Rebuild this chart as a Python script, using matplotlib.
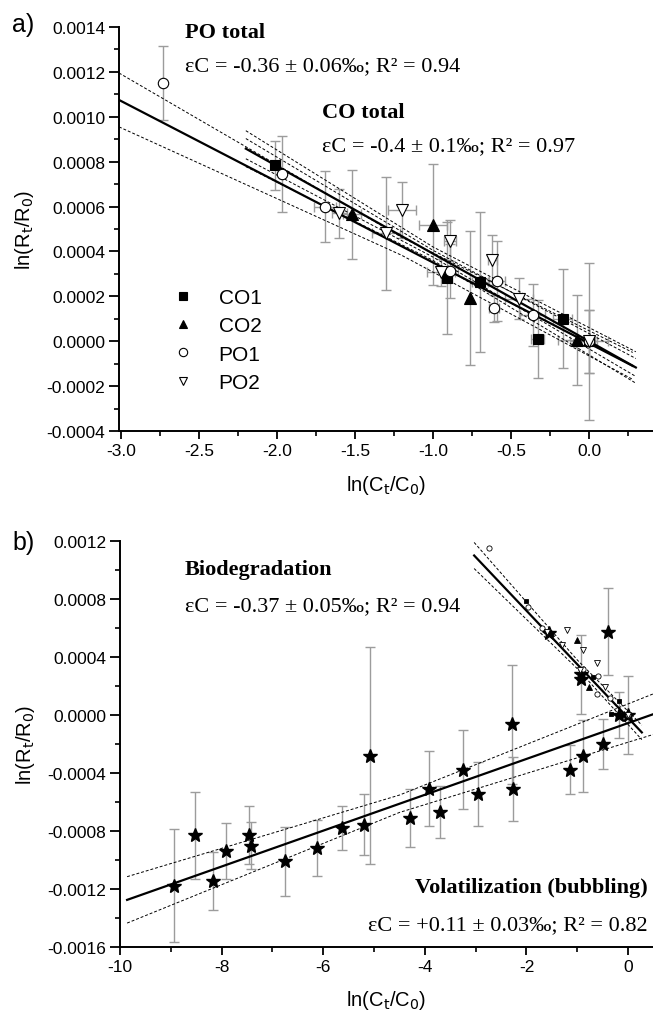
import numpy as np
import matplotlib.pyplot as plt
from matplotlib.ticker import MultipleLocator, FormatStrFormatter

plt.rcParams['font.family'] = ['Liberation Sans Narrow', 'Liberation Sans', 'DejaVu Sans']
plt.rcParams['mathtext.fontset'] = 'custom'
plt.rcParams['mathtext.rm'] = 'Liberation Sans Narrow'
plt.rcParams['mathtext.it'] = 'Liberation Sans Narrow:italic'

# ---- panel a: biodegradation data ----
co1_x = [-2.01, -0.91, -0.70, -0.33, -0.17, 0.0]
co1_y = [0.000784, 0.000280, 0.000264, 0.000009, 0.000100, 0.0]
co1_yerr = [0.00011, 0.00025, 0.00031, 0.000175, 0.00022, 0.00014]
co1_xerr = [0.03, 0.03, 0.05, 0.04, 0.06, 0.0]

co2_x = [-1.52, -1.00, -0.76, -0.08]
co2_y = [0.000565, 0.000520, 0.000193, 0.000005]
co2_yerr = [0.00020, 0.00027, 0.00030, 0.00020]
co2_xerr = [0.06, 0.09, 0.0, 0.12]

po1_x = [-2.73, -1.97, -1.69, -0.89, -0.59, -0.61, -0.36, 0.0]
po1_y = [0.00115, 0.000745, 0.000600, 0.000314, 0.000268, 0.000147, 0.000117, 0.0]
po1_yerr = [0.000166, 0.00017, 0.00016, 0.00012, 0.00018, 0.00006, 0.00014, 0.00035]
po1_xerr = [0.0, 0.0, 0.07, 0.05, 0.05, 0.03, 0.08, 0.05]

po2_x = [-1.60, -1.30, -1.20, -0.95, -0.89, -0.62, -0.45, 0.0]
po2_y = [0.000570, 0.000480, 0.000585, 0.000307, 0.000448, 0.000362, 0.000190, 0.0]
po2_yerr = [0.00011, 0.00025, 0.000126, 0.00006, 0.00009, 0.00011, 0.00009, 0.00014]
po2_xerr = [0.05, 0.09, 0.09, 0.09, 0.04, 0.03, 0.09, 0.12]

# fitted lines (x range, y at the ends) and band half widths
po_fit_x = [-3.013, 0.28]
po_fit_y = [0.001075, -0.000110]
po_band_x = [-3.013, -1.2, 0.28]
po_band_h = [0.00012, 0.00004, 0.00006]

co_fit_x = [-2.2, 0.30]
co_fit_y = [0.000858, -0.000117]
co_band_x = [-2.2, -1.0, 0.30]
co_band_outer = [0.00008, 0.00003, 0.00007]
co_band_inner = [0.000045, 0.000015, 0.00004]

# ---- panel b: volatilization data ----
vol_x = [-8.94, -8.53, -8.16, -7.91, -7.46, -7.42, -6.76, -6.13, -5.64, -5.20,
         -5.08, -4.30, -3.92, -3.70, -3.24, -2.95, -2.28, -2.26, -1.15, -0.88,
         -0.50, -0.17, 0.0, -0.92, -0.93, -0.40, -1.55]
vol_y = [-0.001176, -0.00083, -0.001148, -0.000938, -0.00083, -0.00090, -0.00101,
         -0.000917, -0.000779, -0.000756, -0.000281, -0.00071, -0.000507,
         -0.000668, -0.000376, -0.000546, -0.0000645, -0.000512, -0.000376,
         -0.000284, -0.00020, 0.0, 0.0, 0.00028, 0.00025, 0.000575, 0.000565]
vol_yerr = [0.00039, 0.00030, 0.00020, 0.00019, 0.00020, 0.00016, 0.00024, 0.00019,
            0.00015, 0.00021, 0.00075, 0.00020, 0.00026, 0.00018, 0.00027, 0.00022,
            0.00041, 0.00022, 0.00017, 0.00025, 0.00017, 0.00016, 0.00027,
            0.00027, 0.0, 0.00030, 0.0]

vol_fit_x = [-9.86, 0.49]
vol_fit_y = [-0.001275, 0.000005]
vol_band_x = [-9.86, -4.5, 0.49]
vol_band_h = [0.00016, 0.00006, 0.00014]

bio_fit_x = [-3.03, 0.27]
bio_fit_y = [0.00110, -0.00012]
bio_band_x = [-3.03, -1.0, 0.27]
bio_band_h = [0.00009, 0.00003, 0.00005]

ERR = '#9c9c9c'
serif = ['Liberation Serif', 'DejaVu Serif']
sans = ['Liberation Sans', 'DejaVu Sans']


def px(x, y):
    return x / 653.0, 1 - y / 1012.0


def style_axes(ax):
    ax.spines['right'].set_visible(False)
    ax.spines['top'].set_visible(False)
    ax.spines['left'].set_linewidth(1.4)
    ax.spines['bottom'].set_linewidth(1.4)
    ax.tick_params(which='major', direction='out', length=6, width=1.3, labelsize=12.5, pad=3)
    ax.tick_params(which='minor', direction='out', length=3.5, width=1.2)
    ax.tick_params(axis='y', which='major', length=7)
    ax.yaxis.set_major_formatter(FormatStrFormatter('%.4f'))


def band(ax, fx, fy, bx, bh):
    bx = np.array(bx)
    line = np.interp(bx, fx, fy)
    for s in (1, -1):
        ax.plot(bx, line + s * np.array(bh), color='black', lw=0.7, ls=(0, (3, 2)), zorder=2)


fig = plt.figure(figsize=(6.53, 10.12), dpi=100)

# ================= panel a =================
ax1 = fig.add_axes([119 / 653, 1 - 432 / 1012, 534 / 653, 404 / 1012])
style_axes(ax1)
ax1.set_xlim(-3.013, 0.41)
ax1.set_ylim(-0.0004, 0.0014)
ax1.xaxis.set_major_locator(MultipleLocator(0.5))
ax1.xaxis.set_minor_locator(MultipleLocator(0.25))
ax1.yaxis.set_major_locator(MultipleLocator(0.0002))
ax1.yaxis.set_minor_locator(MultipleLocator(0.0001))
ax1.xaxis.set_major_formatter(FormatStrFormatter('%.1f'))

series = [
    (co1_x, co1_y, co1_yerr, co1_xerr, 's', 'black', 7, 'CO1'),
    (co2_x, co2_y, co2_yerr, co2_xerr, '^', 'black', 8, 'CO2'),
    (po1_x, po1_y, po1_yerr, po1_xerr, 'o', 'white', 7.5, 'PO1'),
    (po2_x, po2_y, po2_yerr, po2_xerr, 'v', 'white', 8, 'PO2'),
]
handles = []
for x, y, ye, xe, m, fc, ms, lab in series:
    ax1.errorbar(x, y, yerr=ye, xerr=xe, fmt='none', ecolor=ERR, elinewidth=1,
                 capsize=3.5, capthick=1, zorder=1)
    h, = ax1.plot(x, y, m, ls='none', mfc=fc, mec='black', mew=0.8, ms=ms, zorder=4, label=lab)
    handles.append(h)

ax1.plot(po_fit_x, po_fit_y, color='black', lw=1.6, zorder=3)
band(ax1, po_fit_x, po_fit_y, po_band_x, po_band_h)
ax1.plot(co_fit_x, co_fit_y, color='black', lw=1.6, zorder=3)
band(ax1, co_fit_x, co_fit_y, co_band_x, co_band_outer)
band(ax1, co_fit_x, co_fit_y, co_band_x, co_band_inner)

leg = ax1.legend(handles=handles, loc='upper left', bbox_to_anchor=(0.085, 0.375),
                 frameon=False, prop={'family': sans, 'size': 15}, handletextpad=1.2,
                 labelspacing=0.45, handlelength=1.0, borderaxespad=0)
for h in leg.legend_handles:
    h.set_markersize(6)

ax1.set_xlabel(r'ln(C$_\mathrm{t}$/C$_\mathrm{0}$)', fontsize=14.5)
ax1.set_ylabel(r'ln(R$_\mathrm{t}$/R$_\mathrm{0}$)', fontsize=14.5)
ax1.xaxis.set_label_coords(0.5, -0.105)
ax1.yaxis.set_label_coords(-0.155, 0.5)

fig.text(*px(185, 33), 'PO total', family=serif, weight='bold', fontsize=16, va='center')
fig.text(*px(185, 67), 'εC = -0.36 ± 0.06‰; R² = 0.94', family=serif, fontsize=16, va='center')
fig.text(*px(322, 113), 'CO total', family=serif, weight='bold', fontsize=16, va='center')
fig.text(*px(322, 147), 'εC = -0.4 ± 0.1‰; R² = 0.97', family=serif, fontsize=16, va='center')
fig.text(*px(12, 25), 'a)', fontsize=18, va='center')

# ================= panel b =================
ax2 = fig.add_axes([120 / 653, 1 - 948 / 1012, 533 / 653, 406 / 1012])
style_axes(ax2)
ax2.set_xlim(-10, 0.49)
ax2.set_ylim(-0.0016, 0.0012)
ax2.xaxis.set_major_locator(MultipleLocator(2))
ax2.xaxis.set_minor_locator(MultipleLocator(1))
ax2.yaxis.set_major_locator(MultipleLocator(0.0004))
ax2.yaxis.set_minor_locator(MultipleLocator(0.0002))
ax2.xaxis.set_major_formatter(FormatStrFormatter('%d'))

ax2.errorbar(vol_x, vol_y, yerr=vol_yerr, fmt='none', ecolor=ERR, elinewidth=1,
             capsize=3.5, capthick=1, zorder=1)
ax2.plot(vol_x, vol_y, '*', ls='none', color='black', ms=10, zorder=4)
ax2.plot(vol_fit_x, vol_fit_y, color='black', lw=1.6, zorder=3)
band(ax2, vol_fit_x, vol_fit_y, vol_band_x, vol_band_h)

for x, y, ye, xe, m, fc, ms, lab in series:
    ax2.plot(x, y, m, ls='none', mfc=fc, mec='black', mew=0.6, ms=ms * 0.5, zorder=4)
ax2.plot(bio_fit_x, bio_fit_y, color='black', lw=1.6, zorder=3)
band(ax2, bio_fit_x, bio_fit_y, bio_band_x, bio_band_h)

ax2.set_xlabel(r'ln(C$_\mathrm{t}$/C$_\mathrm{0}$)', fontsize=14.5)
ax2.set_ylabel(r'ln(R$_\mathrm{t}$/R$_\mathrm{0}$)', fontsize=14.5)
ax2.xaxis.set_label_coords(0.5, -0.1)
ax2.yaxis.set_label_coords(-0.155, 0.5)

fig.text(*px(185, 570), 'Biodegradation', family=serif, weight='bold', fontsize=16, va='center')
fig.text(*px(185, 607), 'εC = -0.37 ± 0.05‰; R² = 0.94', family=serif, fontsize=16, va='center')
fig.text(*px(648, 888), 'Volatilization (bubbling)', family=serif, weight='bold', fontsize=16,
         va='center', ha='right')
fig.text(*px(648, 926), 'εC = +0.11 ± 0.03‰; R² = 0.82', family=serif, fontsize=16,
         va='center', ha='right')
fig.text(*px(12, 543), 'b)', fontsize=18, va='center')

fig.savefig('out.png', dpi=100)
